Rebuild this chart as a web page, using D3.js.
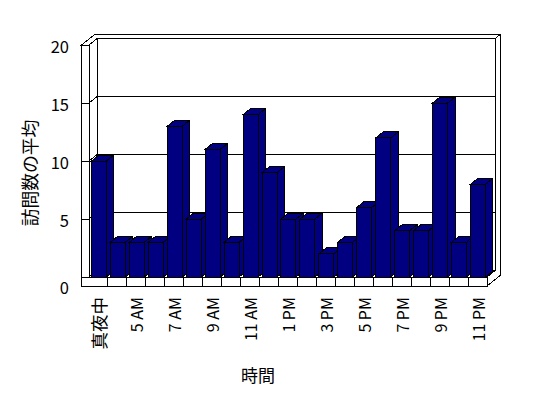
<!DOCTYPE html>
<html>
<head>
<meta http-equiv="content-type" content="text/html; charset=UTF-8">
<title>訪問数の平均</title>
<script src="https://cdn.jsdelivr.net/npm/d3@7"></script>
<style>
body{margin:0;background:#fff}
svg text{font-family:"Noto Sans CJK JP","Noto Sans",sans-serif;fill:#000}
</style>
</head>
<body>
<svg id="mySVG" width="548" height="398"></svg>
<script>
//---chart data---
var hours=["真夜中","4 AM","5 AM","6 AM","7 AM","8 AM","9 AM","10 AM","11 AM","正午","1 PM","2 PM","3 PM","4 PM","5 PM","6 PM","7 PM","8 PM","9 PM","10 PM","11 PM"]
var visits=[10,3,3,3,13,5,11,3,14,9,5,5,2,3,6,12,4,4,15,3,8]
var yTicks=[0,5,10,15,20]
var yTitle="訪問数の平均"
var xTitle="時間"

//---3d frame sizes---
var X0=89, Y0=277        // front plane, value 0, left inner wall
var W=398, H=232         // plot width / height at front plane
var KX=1, KY=0.8         // oblique depth direction
var wallT=7.5            // left wall thickness
var floorT=9             // floor thickness
var depthB=8.5           // floor depth to the back wall
var depthT=13            // through the back wall
var barD=7.5             // bar depth
var navy="#000080"

var svg=d3.select("#mySVG")

var xBand=d3.scaleBand()
  .domain(hours)
  .range([0,W])

var yScale=d3.scaleLinear()
  .domain([0,20])
  .range([0,H])

function proj(x,h,z)
{
  return [X0+x+z*KX, Y0-h-z*KY]
}
function poly(pts,fill)
{
  return svg.append("polygon")
    .attr("points",pts.map(function(p){return p.join(",")}).join(" "))
    .attr("fill",fill||"white")
    .attr("stroke","black")
    .attr("stroke-width",1)
    .attr("stroke-linejoin","miter")
    .attr("shape-rendering","crispEdges")
}

//---walls and floor---
poly([proj(0,0,depthB),proj(W,0,depthB),proj(W,H,depthB),proj(0,H,depthB)])      // back wall face
poly([proj(0,0,0),proj(0,0,depthB),proj(0,H,depthB),proj(0,H,0)])                // left wall inner face
poly([proj(0,0,0),proj(W,0,0),proj(W,0,depthB),proj(0,0,depthB)])                // floor top

// gridlines
yTicks.forEach(function(v){
  var h=yScale(v)
  var p=[proj(-wallT,h,0),proj(0,h,0),proj(0,h,depthB),proj(W,h,depthB)]
  svg.append("path")
    .attr("d",d3.line()(p))
    .attr("fill","none")
    .attr("stroke","black")
    .attr("shape-rendering","crispEdges")
})

// top edge of walls
poly([proj(-wallT,H,0),proj(-wallT,H,depthT),proj(W,H,depthT),proj(W,H,depthB),proj(0,H,depthB),proj(0,H,0)])
// right side of back wall + floor
poly([proj(W,0,0),proj(W,-floorT,0),proj(W,-floorT,depthT),proj(W,H,depthT),proj(W,H,depthB),proj(W,0,depthB)])
// front of left wall + floor
poly([proj(-wallT,H,0),proj(0,H,0),proj(0,0,0),proj(W,0,0),proj(W,-floorT,0),proj(-wallT,-floorT,0)])

// y ticks on the wall front
yTicks.forEach(function(v){
  var h=yScale(v)
  svg.append("path")
    .attr("d",d3.line()([proj(-wallT,h,0),proj(0,h,0)]))
    .attr("stroke","black")
    .attr("shape-rendering","crispEdges")
})

// category ticks on the floor front
hours.forEach(function(c,i){
  if(i==0) return
  var x=xBand(c)
  svg.append("path")
    .attr("d",d3.line()([proj(x,0,0),proj(x,-floorT,0)]))
    .attr("stroke","black")
    .attr("shape-rendering","crispEdges")
})

//---bars, left to right---
var bw=xBand.bandwidth()
hours.forEach(function(c,i){
  var x0=xBand(c)+bw*0.13
  var x1=x0+bw*0.79
  var h=yScale(visits[i])
  poly([proj(x0,0,0),proj(x1,0,0),proj(x1,h,0),proj(x0,h,0)],navy)
  poly([proj(x1,0,0),proj(x1,0,barD),proj(x1,h,barD),proj(x1,h,0)],navy)
  poly([proj(x0,h,0),proj(x1,h,0),proj(x1,h,barD),proj(x0,h,barD)],navy)
})

//---labels---
yTicks.forEach(function(v){
  var p=proj(-wallT,yScale(v),0)
  svg.append("text")
    .attr("x",69)
    .attr("y",p[1]+(v==0?floorT:0)+0.5)
    .attr("text-anchor","end")
    .attr("dominant-baseline","central")
    .attr("font-size","16.5px")
    .text(v)
})

hours.forEach(function(c,i){
  if(i%2) return
  var cx=X0+xBand(c)+bw/2
  svg.append("text")
    .attr("transform","translate("+cx+",297)rotate(-90)")
    .attr("text-anchor","end")
    .attr("dominant-baseline","central")
    .attr("font-size",/[A-Z]/.test(c)?"16px":"17.5px")
    .text(c)
})

svg.append("text")
  .attr("transform","translate(28.5,173)rotate(-90)")
  .attr("text-anchor","middle")
  .attr("dominant-baseline","central")
  .attr("font-size","17.8px")
  .text(yTitle)

svg.append("text")
  .attr("x",258)
  .attr("y",374)
  .attr("text-anchor","middle")
  .attr("dominant-baseline","central")
  .attr("font-size","17px")
  .text(xTitle)
</script>
</body>
</html>
